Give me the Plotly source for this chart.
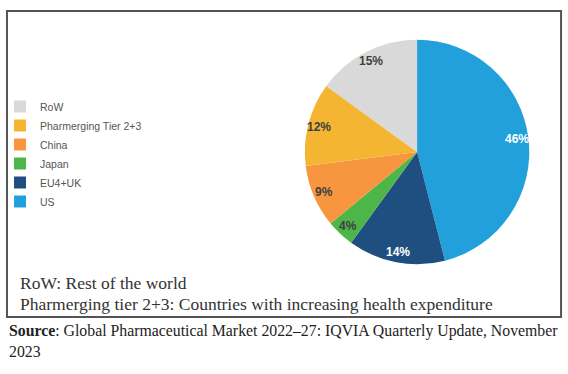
import math
import plotly.graph_objects as go

regions = ["US", "EU4+UK", "Japan", "China", "Pharmerging Tier 2+3", "RoW"]
shares = [46, 14, 4, 9, 12, 15]
colors = ["#22a0dc", "#1f4f80", "#4db649", "#f8953f", "#f4b632", "#d9d9d9"]
label_colors = ["#ffffff", "#ffffff", "#404040", "#404040", "#404040", "#404040"]

note_lines = ["RoW: Rest of the world",
              "Pharmerging tier 2+3: Countries with increasing health expenditure"]
source_text = "<b>Source</b>: Global Pharmaceutical Market 2022\u201327: IQVIA Quarterly Update, November<br>2023"

W, H = 568, 374
dom_x = [303 / W, 529 / W]
dom_y = [1 - 265 / H, 1 - 39 / H]

fig = go.Figure()
fig.add_trace(go.Pie(
    labels=regions, values=shares, sort=False, direction="clockwise", rotation=0,
    marker=dict(colors=colors, line=dict(width=0)),
    textinfo="none", domain=dict(x=dom_x, y=dom_y), hoverinfo="label+percent",
))

# percentage labels placed at each slice's mid-angle, near the rim
cx = (dom_x[0] + dom_x[1]) / 2 * W
cy = (1 - (dom_y[0] + dom_y[1]) / 2) * H
R = (dom_x[1] - dom_x[0]) * W / 2
total = sum(shares)
cum = 0
for v, c in zip(shares, label_colors):
    ang = 2 * math.pi * (cum + v / 2) / total
    cum += v
    px = cx + 0.9 * R * math.sin(ang)
    py = cy - 0.9 * R * math.cos(ang)
    fig.add_annotation(text=f"<b>{v}%</b>", xref="paper", yref="paper",
                       x=px / W, y=1 - py / H, xanchor="center", yanchor="middle",
                       showarrow=False,
                       font=dict(family="Arial, Liberation Sans, sans-serif", size=12, color=c))

fig.add_shape(type="rect", xref="paper", yref="paper",
              x0=3 / W, x1=561 / W, y0=1 - 317 / H, y1=1 - 11 / H,
              line=dict(color="#555555", width=2))

for i, line in enumerate(note_lines):
    fig.add_annotation(text=line, xref="paper", yref="paper",
                       x=14 / W, y=1 - (283 + 20.5 * i) / H, xanchor="left", yanchor="middle",
                       showarrow=False,
                       font=dict(family="Liberation Serif, Times New Roman, serif", size=17.5, color="#333333"))

fig.add_annotation(text=source_text, xref="paper", yref="paper",
                   x=3 / W, y=1 - 320 / H, xanchor="left", yanchor="top", align="left",
                   showarrow=False,
                   font=dict(family="Liberation Serif, Times New Roman, serif", size=15.8, color="#222222"))

fig.update_layout(
    width=W, height=H, margin=dict(l=0, r=0, t=0, b=0),
    paper_bgcolor="white", plot_bgcolor="white",
    legend=dict(traceorder="reversed", x=-4 / W, y=1 - 92 / H, xanchor="left", yanchor="top",
                font=dict(family="Arial, Liberation Sans, sans-serif", size=10.5, color="#555555"),
                itemwidth=30, tracegroupgap=0, bgcolor="rgba(0,0,0,0)"),
)

fig.write_html("out.html", config={"displayModeBar": False},
               post_script="document.body.style.margin='0px';")
